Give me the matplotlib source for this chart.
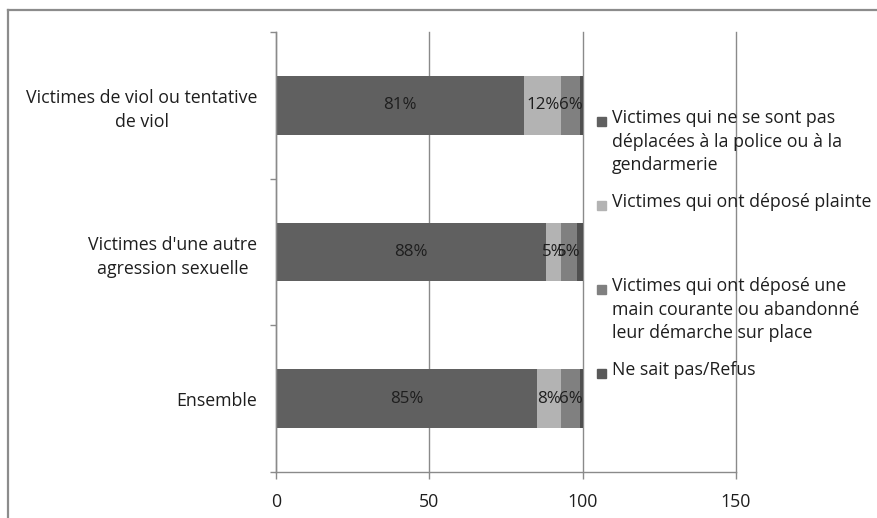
import matplotlib
matplotlib.use("Agg")
import matplotlib.pyplot as plt
from matplotlib.lines import Line2D
from matplotlib.patches import Rectangle

categories = ["Victimes de viol ou tentative\nde viol",
              "Victimes d'une autre\nagression sexuelle",
              "Ensemble"]
series_names = ["Victimes qui ne se sont pas\ndéplacées à la police ou à la\ngendarmerie",
                "Victimes qui ont déposé plainte",
                "Victimes qui ont déposé une\nmain courante ou abandonné\nleur démarche sur place",
                "Ne sait pas/Refus"]
pas_deplacees = [81, 88, 85]
plainte = [12, 5, 8]
main_courante = [6, 5, 6]
ne_sait_pas = [1, 2, 1]
series = [pas_deplacees, plainte, main_courante, ne_sait_pas]
show_labels = [True, True, True, False]
colors = ["#606060", "#b3b3b3", "#808080", "#505050"]
legend_colors = ["#606060", "#b3b3b3", "#808080", "#595959"]
xticks = [0, 50, 100, 150]

FONT = ["Open Sans", "DejaVu Sans"]
plt.rcParams['font.family'] = FONT
FS = 12.8
FS_BAR = 12.2
TXT = "#1e1e1e"
GRID = "#8a8a8a"

W, H = 877, 518
fig = plt.figure(figsize=(W / 100, H / 100), dpi=100)
ax = fig.add_axes([276 / W, 1 - 472 / H, (736 - 276) / W, (472 - 32) / H])

ypos = [2, 1, 0]
left = [0, 0, 0]
for vals, col, lab in zip(series, colors, show_labels):
    bars = ax.barh(ypos, vals, left=left, height=0.4, color=col, zorder=2)
    if lab:
        for b, v in zip(bars, vals):
            ax.text(b.get_x() + b.get_width() / 2, b.get_y() + b.get_height() / 2,
                    f"{v}%", ha="center", va="center", fontsize=FS_BAR, color=TXT, zorder=3)
    left = [l + v for l, v in zip(left, vals)]

ax.set_xlim(0, 150)
ax.set_ylim(-0.5, 2.5)
ax.set_xticks(xticks)
ax.set_xticklabels([str(t) for t in xticks], fontsize=FS, color=TXT)
ax.set_yticks(ypos)
ax.set_yticklabels(categories, fontsize=FS, color=TXT, multialignment="center",
                   linespacing=1.4)
ax.set_yticks([-0.5, 0.5, 1.5, 2.5], minor=True)
ax.tick_params(axis="y", which="major", length=0, pad=13.5)
ax.tick_params(axis="y", which="minor", length=4.5, color=GRID, width=1)
ax.tick_params(axis="x", which="major", length=5, color=GRID, width=1, pad=10)
ax.grid(axis="x", color=GRID, linewidth=1, zorder=0)
for gl in ax.get_xgridlines():
    gl.set_clip_on(False)
ax.set_axisbelow(True)
for s in ["top", "right"]:
    ax.spines[s].set_visible(False)
for s in ["left", "bottom"]:
    ax.spines[s].set_color(GRID)
    ax.spines[s].set_linewidth(1)

# chart frame (top and left edges visible)
fig.add_artist(Line2D([8 / W, 1], [1 - 10 / H, 1 - 10 / H], color="#8c8c8c", linewidth=1.6,
                      transform=fig.transFigure))
fig.add_artist(Line2D([8 / W, 8 / W], [1 - 10 / H, 0], color="#8c8c8c", linewidth=1.6,
                      transform=fig.transFigure))

# legend (manual, Excel-like slots)
y0 = 121
slot = 84
for i, (name, col) in enumerate(zip(series_names, legend_colors)):
    yc = y0 + i * slot
    fig.add_artist(Rectangle((597 / W, 1 - (yc + 4.5) / H), 9 / W, 9 / H, color=col,
                             transform=fig.transFigure))
    fig.text(612 / W, 1 - (yc - 12) / H, name, ha="left", va="top", fontsize=FS,
             color=TXT, linespacing=1.4)

fig.savefig("out.png", dpi=100)
